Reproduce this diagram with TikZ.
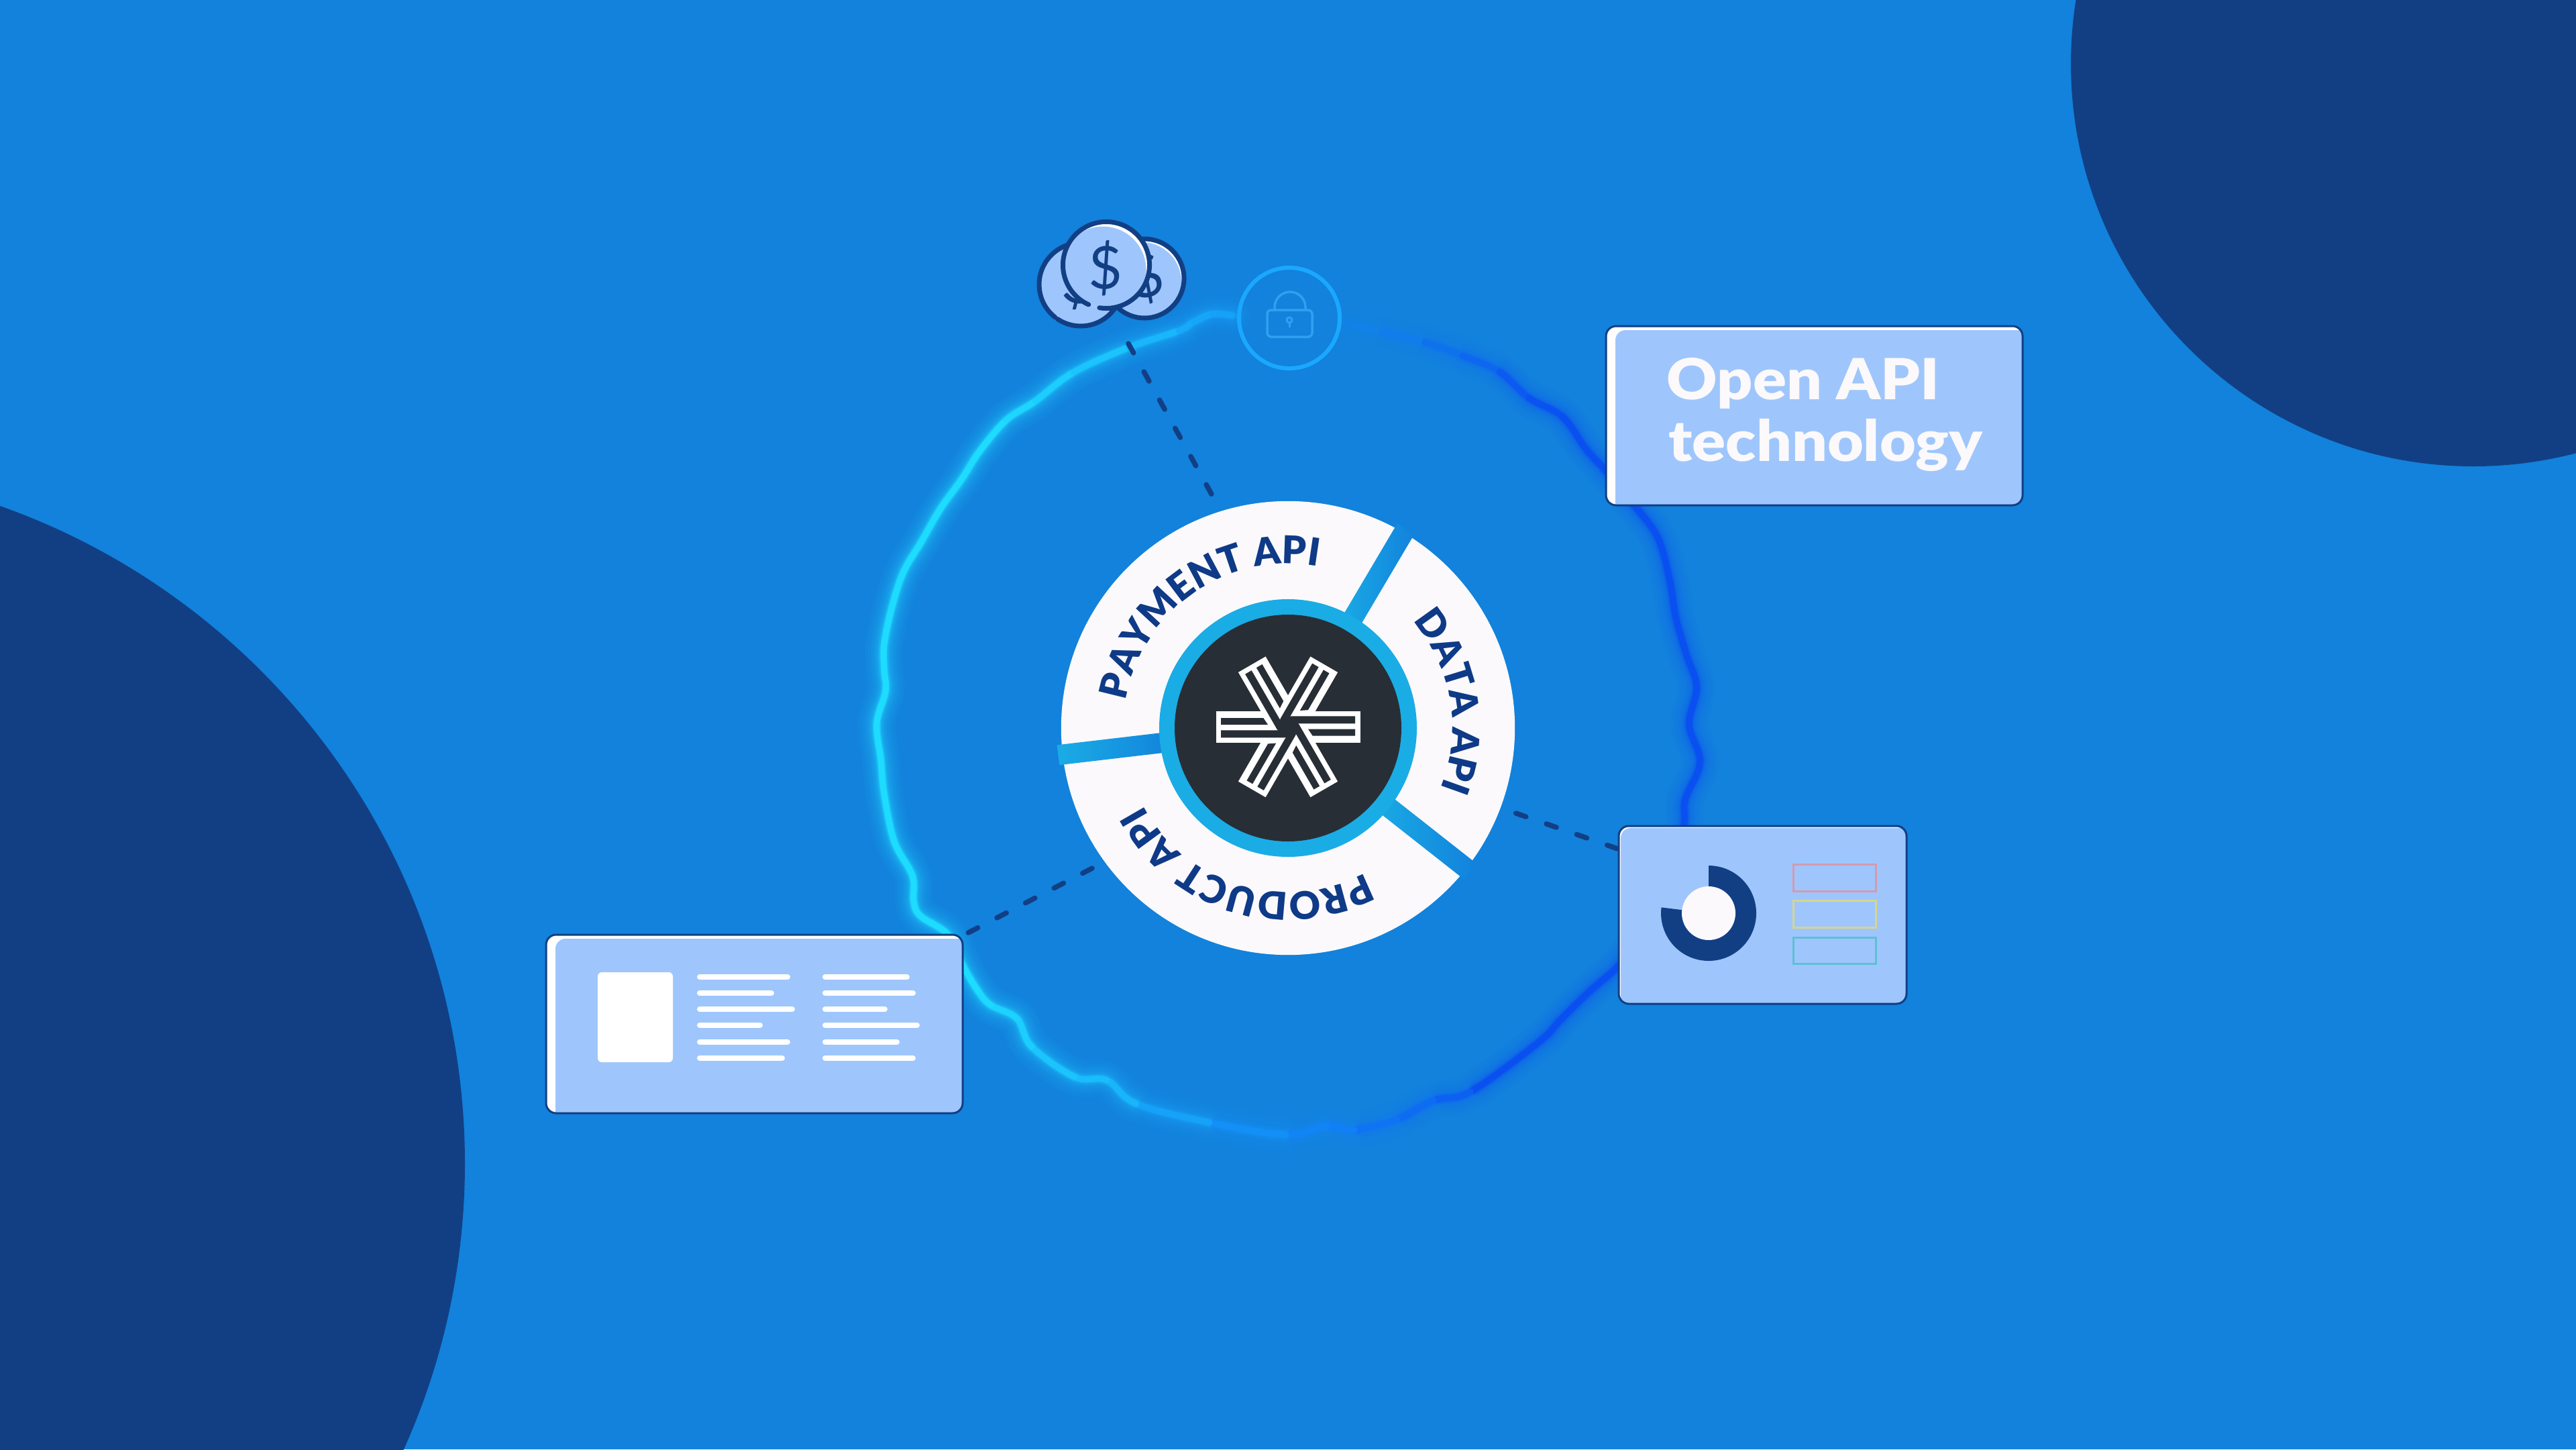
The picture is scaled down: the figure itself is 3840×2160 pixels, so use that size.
\documentclass[tikz,border=0pt]{standalone}
\usepackage{fontspec}
\setmainfont{Lato}
\newfontfamily\latoblack{Lato Black}
\newfontfamily\latowide{Lato Black}[FakeStretch=1.1]
\usetikzlibrary{calc,decorations.text}
\definecolor{bgblue}{HTML}{1282DC}
\definecolor{navy}{HTML}{123F84}
\definecolor{navytext}{HTML}{0E3A87}
\definecolor{ink}{HTML}{282E36}
\definecolor{ringblue}{HTML}{1AACE5}
\definecolor{paper}{HTML}{FBF9FB}
\definecolor{cardblue}{HTML}{9EC6FC}
\definecolor{wavecyan}{HTML}{1EDCFF}
\definecolor{wavedeep}{HTML}{0A4FF0}
\definecolor{lockblue}{HTML}{1AA8FF}
\definecolor{lockfaint}{HTML}{2FA0F0}
\definecolor{swpink}{HTML}{D49AB0}
\definecolor{swyellow}{HTML}{D6D58E}
\definecolor{swteal}{HTML}{60BFD5}
\tikzset{
  connector/.style={draw=navy,line width=0.075cm,line cap=round,dash pattern=on 0.16cm off 0.32cm},
  cardnode/.style={fill=white,rounded corners=0.15cm,inner sep=0pt,outer sep=0pt},
  swatch/.style={line width=0.03cm,fill=none},
  coinline/.style={draw=navy,line width=0.07cm,line cap=round},
  glyph/.style={inner sep=0pt,outer sep=0pt,text=navy,font=\fontsize{25}{25}\selectfont},
}
\newcommand{\wavepts}{2007/481,2060/495,2123/510,2180/530,2235/554,2279/593,2329/621,2364/669,2393/701,2436/753,2471/801,2489/865,2498/920,2514/976,2529/1024,2518/1080,2534/1136,2512/1192,2509/1235,2480/1330,2440/1400,2412/1440,2370/1477,2326/1520,2294/1553,2192/1627,2137/1640,2083/1668,2019/1684,1978/1678,1917/1691,1803/1673,1694/1645,1650/1610,1602/1605,1538/1560,1516/1518,1477/1498,1458/1477,1436/1440,1413/1393,1372/1365,1362/1343,1360/1305,1333/1254,1318/1183,1313/1132,1307/1078,1320/1030,1318/998,1318/960,1330/903,1347/852,1373/808,1402/758,1433/715,1460/673,1500/626,1543/598,1600/555,1682/518,1757/493,1779/480,1807/468,1837/470}
\newcommand{\wavestroke}[2]{%
  \foreach \px/\py [count=\pi] in \wavepts {%
    \ifnum\pi<\wn\relax
      \pgfmathtruncatemacro\pa{max(\pi-1,1)}%
      \pgfmathtruncatemacro\pb{\pi+1}%
      \pgfmathtruncatemacro\pc{min(\pi+2,\wn)}%
      \pgfmathtruncatemacro\tm{min(100,max(0,(\px-1450)/8.5))}%
      \pgfmathtruncatemacro\mx{#2*min(1,0.35+0.13*\pi)}%
      \draw[line width=#1cm,line cap=round,draw=wavedeep!\tm!wavecyan!\mx!bgblue]
        (p\pi) .. controls ($(p\pi)+0.1667*(p\pb)-0.1667*(p\pa)$) and ($(p\pb)-0.1667*(p\pc)+0.1667*(p\pi)$) .. (p\pb);
    \fi
  }%
}
\newcommand{\cardbox}[7]{% name x1 y1 x2 y2 highlightx highlighty
  \pgfmathsetmacro\cw{(#4-#2)/100}\pgfmathsetmacro\ch{(#5-#3)/100}%
  \pgfmathsetmacro\cx{(#4+#2)/2}\pgfmathsetmacro\cy{(#5+#3)/2}%
  \node[cardnode,minimum width=\cw cm,minimum height=\ch cm] (#1) at (\cx,\cy) {};
  \begin{scope}
    \clip[rounded corners=0.15cm] (#2,#3) rectangle (#4,#5);
    \fill[cardblue,rounded corners=0.15cm] (#2+#6,#3+#7) rectangle (#4+30,#5+30);
  \end{scope}
  \draw[navy,line width=0.03cm,rounded corners=0.15cm] (#2,#3) rectangle (#4,#5);
}
\begin{document}
\begin{tikzpicture}[x=0.01cm,y=-0.01cm]
\clip (0,0) rectangle (3840,2160);
\fill[bgblue] (0,0) rectangle (3840,2160);
% corner discs
\fill[navy] (-346,1734) circle (1039);
\fill[navy] (3687,95) circle (600);
% glowing wave
\foreach \px/\py [count=\pi] in \wavepts { \coordinate (p\pi) at (\px,\py); \xdef\wn{\pi} }
\wavestroke{0.56}{6}
\wavestroke{0.46}{11}
\wavestroke{0.37}{17}
\wavestroke{0.29}{25}
\wavestroke{0.22}{35}
\wavestroke{0.16}{50}
\wavestroke{0.12}{70}
\wavestroke{0.09}{100}
% anchor coordinates of the connectors
\coordinate (wheelc) at (1920,1085);
\coordinate (coinfoot) at (1682,512);
\coordinate (wheeltop) at (1819,760);
\coordinate (wheelright) at (2237,1204);
\coordinate (datafoot) at (2420,1268);
\coordinate (wheelleft) at (1628,1294);
\coordinate (prodfoot) at (1432,1396);
\draw[connector] (coinfoot) -- (wheeltop);
\draw[connector,dash phase=0.24cm] (wheelright) -- (datafoot);
\draw[connector] (wheelleft) -- (prodfoot);
% wheel
\node[circle,fill=paper,minimum size=6.76cm,inner sep=0pt] (wheel) at (wheelc) {};
\foreach \ang in {59.4,186.7,-38.2} {
  \begin{scope}[shift={(wheelc)},rotate=\ang]
    \shade[left color=ringblue,right color=bgblue] (170,-15) rectangle (345,15);
  \end{scope}
}
\fill[ringblue] (wheelc) circle (192);
\fill[ink] (wheelc) circle (169);
% logo
\begin{scope}[shift={(1920,1083.3)}]
  \foreach \k in {0,60,120} {
    \fill[white,rotate=\k] (-107.5,-23.5) rectangle (107.5,23.5);
  }
  \foreach \k in {0,60,...,300} {
    \begin{scope}[rotate=\k]
      \fill[ink] (-100,-13.3) -- (-36.7,-13.3) -- (-30,-3.3) -- (-100,-3.3) -- cycle;
      \fill[ink] (-100,5) -- (-12,5) -- (-5,16) -- (-100,16) -- cycle;
    \end{scope}
  }
  \fill[ink] (-5,16) -- (-16.4,3.7) -- (-11.3,-12.3) -- (5,-16) -- (16.4,-3.7) -- (11.3,12.3) -- cycle;
\end{scope}
% wheel labels
\newcommand{\wheelf}{\fontsize{16.2}{16.2}\latoblack\color{navytext}}
\path[decorate,decoration={text along path,text={|\wheelf|PAYMENT API},text align={center}}]
  ($(wheelc)+(-185:245)$) arc[start angle=-185,end angle=-65,radius=245];
\path[decorate,decoration={text along path,text={|\wheelf|DATA API},text align={center}}]
  ($(wheelc)+(-69.5:245)$) arc[start angle=-69.5,end angle=50.5,radius=245];
\path[decorate,decoration={text along path,text={|\wheelf|PRODUCT API},text align={center}}]
  ($(wheelc)+(47:245)$) arc[start angle=47,end angle=167,radius=245];
% cards
\cardbox{opencard}{2394}{486}{3015}{753}{14}{6}
\node[anchor=base west,inner sep=0pt,text=paper,font=\fontsize{24}{24}\latowide\selectfont] (openA) at (2484,595) {Open API};
\node[anchor=base west,inner sep=0pt,text=paper,font=\fontsize{24}{24}\latowide\selectfont] (openB) at (2487,687) {technology};
\cardbox{prodcard}{814}{1393}{1435}{1659}{14}{6}
\fill[white,rounded corners=0.06cm] (891,1449) rectangle (1003,1583);
\foreach \ya/\ea/\eb in {1456/1178/1356,1480/1154/1365,1504/1185/1323,1528/1137/1371,1553/1178/1341,1577/1170/1365} {
  \draw[white,line width=0.08cm,line cap=round] (1043,\ya) -- (\ea-4,\ya);
  \draw[white,line width=0.08cm,line cap=round] (1230,\ya) -- (\eb-4,\ya);
}
\cardbox{datacard}{2413}{1231}{2842}{1496}{3}{3}
\fill[navy] (2547,1361) ++(0,-71) arc[start angle=-90,end angle=187,radius=71] -- (2547,1361) -- cycle;
\fill[paper] (2547,1361) circle (40);
\draw[swatch,swpink] (2673,1288) rectangle (2796,1328);
\draw[swatch,swyellow] (2673,1342) rectangle (2796,1382);
\draw[swatch,swteal] (2673,1397) rectangle (2796,1436);
% lock
\node[circle,draw=lockblue,line width=0.06cm,minimum size=1.5cm,inner sep=0pt] (lockring) at (1922,474) {};
\draw[lockfaint,line width=0.035cm,rounded corners=0.06cm] (1889,462) rectangle (1956,502);
\draw[lockfaint,line width=0.035cm] (1900,462) -- (1900,458) arc[start angle=180,end angle=360,radius=23] -- (1946,462);
\draw[lockfaint,line width=0.03cm] (1922,477) circle (4);
\draw[lockfaint,line width=0.03cm] (1922,481) -- (1922,488);
% coins
\fill[cardblue] (1611,424) circle (62);
\node[glyph,rotate=-10] (dollarL) at (1611,422) {\$};
\draw[coinline] (1611,424) ++(128:62) arc[start angle=128,end angle=484,radius=62];
\fill[white] (1706,415) circle (59);
\begin{scope}
  \clip (1706,415) circle (59);
  \fill[cardblue] (1702,420) circle (59);
\end{scope}
\node[glyph,rotate=15] (dollarR) at (1708,412) {\$};
\draw[coinline] (1706,415) circle (59);
\fill[white] (1649,395) circle (64.5);
\begin{scope}
  \clip (1649,395) circle (64.5);
  \fill[cardblue] (1644,402) circle (64.5);
\end{scope}
\draw[coinline] (1649,395) ++(114:64.5) arc[start angle=114,end angle=459,radius=64.5];
\node[glyph] (dollarM) at (1648,400) {\$};
\end{tikzpicture}
\end{document}
